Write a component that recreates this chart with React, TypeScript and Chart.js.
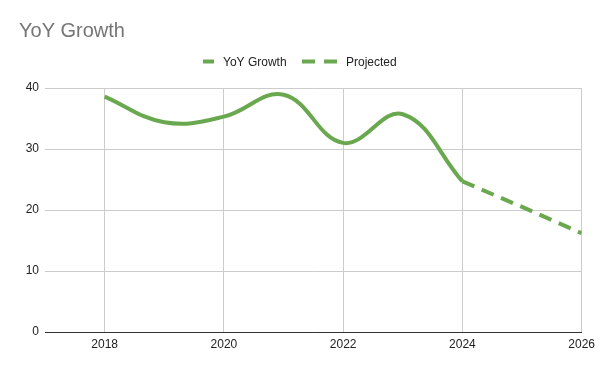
import React, { useEffect, useRef } from "react";
import { Chart, registerables } from "chart.js";

Chart.register(...registerables);

const TITLE = "YoY Growth";
const actualYears = [2018, 2019, 2020, 2021, 2022, 2023, 2024];
const actualValues = [38.6, 34.4, 35.3, 38.9, 31.0, 35.7, 24.7];
const projectedYears = [2024, 2025, 2026];
const projectedValues = [24.7, 20.5, 16.2];
const xTicks = [2018, 2020, 2022, 2024, 2026];
const yTicks = [0, 10, 20, 30, 40];
const seriesNames = ["YoY Growth", "Projected"];

const GREEN = "#6aa84f";
const FONT = "'Liberation Sans', Arial, sans-serif";

const headerPlugin = {
  id: "header",
  afterDraw(chart: any) {
    const ctx = chart.ctx;
    ctx.save();
    ctx.fillStyle = "#757575";
    ctx.font = `20px ${FONT}`;
    ctx.textBaseline = "alphabetic";
    ctx.textAlign = "left";
    ctx.fillText(TITLE, 19, 37);

    // legend
    ctx.font = `12px ${FONT}`;
    ctx.textBaseline = "alphabetic";
    const y = 61.5;
    ctx.strokeStyle = GREEN;
    ctx.lineWidth = 4;
    ctx.lineCap = "butt";
    ctx.beginPath();
    ctx.moveTo(203, y);
    ctx.lineTo(214, y);
    ctx.stroke();
    ctx.fillStyle = "#222";
    ctx.fillText(seriesNames[0], 223, 66);
    ctx.beginPath();
    ctx.moveTo(302, y);
    ctx.lineTo(315, y);
    ctx.moveTo(324, y);
    ctx.lineTo(337, y);
    ctx.stroke();
    ctx.fillText(seriesNames[1], 346, 66);
    ctx.restore();
  },
};

export default function App() {
  const ref = useRef<HTMLCanvasElement>(null);
  useEffect(() => {
    document.body.style.margin = "0";
    const chart = new Chart(ref.current!, {
      type: "line",
      data: {
        datasets: [
          {
            label: seriesNames[0],
            data: actualYears.map((x, i) => ({ x, y: actualValues[i] })),
            borderColor: GREEN,
            borderWidth: 4,
            pointRadius: 0,
            tension: 0.4,
            fill: false,
          },
          {
            label: seriesNames[1],
            data: projectedYears.map((x, i) => ({ x, y: projectedValues[i] })),
            borderColor: GREEN,
            borderWidth: 4,
            borderDash: [13, 8],
            pointRadius: 0,
            tension: 0,
            fill: false,
          },
        ],
      },
      options: {
        responsive: false,
        animation: false,
        layout: { padding: { top: 88, right: 18, left: 0, bottom: 11 } },
        plugins: {
          legend: { display: false },
          title: { display: false },
          tooltip: { enabled: false },
        },
        scales: {
          x: {
            type: "linear",
            min: 2017,
            max: 2026,
            afterBuildTicks: (axis: any) => {
              axis.ticks = xTicks.map((v) => ({ value: v }));
            },
            afterFit: (axis: any) => {
              axis.height = 28;
            },
            ticks: {
              color: "#222",
              font: { family: FONT, size: 12 },
              padding: 5,
              maxRotation: 0,
              autoSkip: false,
              callback: (v: any) => String(v),
            },
            grid: { color: "#cccccc", drawTicks: false, lineWidth: 1 },
            border: { display: true, color: "#333333", width: 1 },
          },
          y: {
            min: 0,
            max: 40,
            afterBuildTicks: (axis: any) => {
              axis.ticks = yTicks.map((v) => ({ value: v }));
            },
            afterFit: (axis: any) => {
              axis.width = 45;
            },
            ticks: {
              color: "#222",
              font: { family: FONT, size: 12 },
              padding: 6,
            },
            grid: {
              color: (c: any) => (c.tick && c.tick.value === 0 ? "#333333" : "#cccccc"),
              drawTicks: false,
              lineWidth: 1,
            },
            border: { display: false },
          },
        },
      },
      plugins: [headerPlugin],
    });
    return () => chart.destroy();
  }, []);
  return <canvas ref={ref} width={600} height={371} style={{ display: "block" }} />;
}
